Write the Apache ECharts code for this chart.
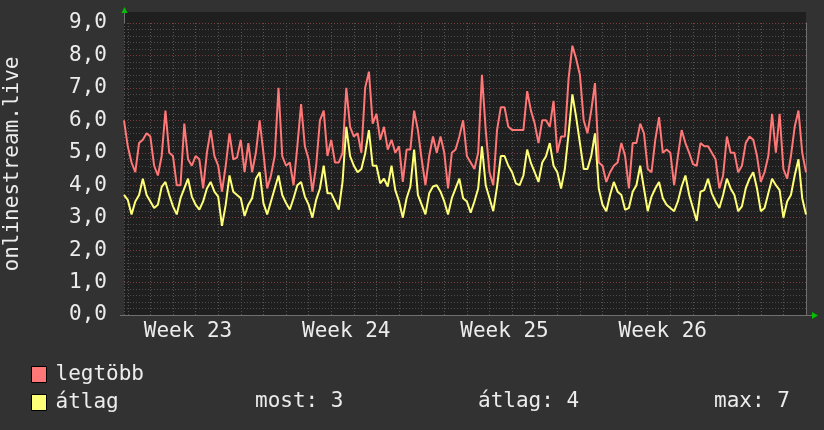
<!DOCTYPE html>
<html>
<head>
<meta charset="utf-8">
<script src="https://cdn.jsdelivr.net/npm/echarts@6/dist/echarts.min.js"></script>
<style>
  html, body { margin: 0; padding: 0; background: #323232; }
  #chart { width: 824px; height: 430px; }
</style>
</head>
<body>
<div id="chart"></div>
<script>
// samples per day (one point every 4 hours), the last one is "now"
const PER_DAY = 6

// legtöbb (max) per sample
const legtobb = [
  6.0, 5.2, 4.7, 4.4, 5.3, 5.4, 5.6, 5.5, 4.6, 4.3,
  4.9, 6.3, 5.0, 4.9, 4.0, 4.0, 5.9, 4.8, 4.6, 4.9,
  4.8, 3.9, 5.0, 5.7, 4.9, 4.6, 3.8, 4.6, 5.6, 4.8,
  4.85, 5.4, 4.4, 5.3, 4.4, 5.0, 6.0, 5.0, 3.9, 4.3,
  4.9, 7.0, 4.9, 4.6, 4.7, 4.0, 5.2, 6.5, 5.2, 4.8,
  3.8, 4.6, 6.0, 6.3, 4.9, 5.4, 4.7, 4.7, 5.0, 7.0,
  5.8, 5.5, 5.6, 5.0, 7.0, 7.5, 5.9, 6.2, 5.4, 5.8,
  5.1, 5.4, 5.0, 5.2, 4.1, 5.1, 5.1, 6.3, 5.7, 4.8,
  4.0, 4.9, 5.5, 5.0, 5.5, 5.0, 3.9, 5.0, 5.1, 5.5,
  6.0, 4.9, 4.7, 4.5, 5.0, 7.4, 5.7, 4.4, 4.0, 5.7,
  6.4, 6.4, 5.8, 5.7, 5.7, 5.7, 5.7, 6.9, 6.3, 5.9,
  5.3, 6.0, 6.0, 5.8, 6.6, 5.0, 5.5, 5.5, 7.3, 8.3,
  7.9, 7.4, 6.0, 5.6, 6.3, 7.15, 4.7, 4.6, 4.1, 4.4,
  4.6, 4.7, 5.3, 4.9, 3.9, 5.3, 5.3, 5.9, 5.6, 4.5,
  4.4, 5.4, 6.1, 5.0, 5.1, 5.0, 4.0, 4.9, 5.7, 5.3,
  5.0, 4.65, 4.6, 5.3, 5.2, 5.2, 5.0, 4.8, 3.9, 4.3,
  5.5, 5.0, 5.0, 4.4, 4.6, 5.3, 5.5, 5.4, 4.9, 4.1,
  4.4, 4.9, 6.2, 5.0, 6.2, 4.5, 4.2, 4.9, 5.8, 6.3,
  5.0, 4.4
]

// átlag (average) per sample
const atlag = [
  3.7, 3.55, 3.1, 3.5, 3.7, 4.2, 3.7, 3.5, 3.3, 3.4,
  3.95, 4.1, 3.7, 3.35, 3.1, 3.6, 3.9, 4.2, 3.65, 3.4,
  3.25, 3.5, 3.9, 4.1, 3.8, 3.65, 2.75, 3.4, 4.3, 3.8,
  3.7, 3.6, 3.05, 3.4, 3.6, 4.2, 4.4, 3.45, 3.1, 3.5,
  3.9, 4.3, 3.7, 3.45, 3.25, 3.6, 4.0, 4.1, 3.65, 3.4,
  3.0, 3.55, 3.9, 4.6, 3.75, 3.75, 3.5, 3.25, 4.1, 5.8,
  4.9, 4.6, 4.4, 4.5, 4.98, 5.7, 4.6, 4.6, 4.06, 4.2,
  3.96, 4.6, 3.85, 3.5, 3.0, 3.6, 3.96, 5.1, 3.7, 3.4,
  3.1, 3.75, 3.96, 4.0, 3.8, 3.5, 3.1, 3.6, 3.9, 4.2,
  3.6, 3.5, 3.15, 3.5, 3.9, 5.2, 4.0, 3.6, 3.2, 3.95,
  4.9, 4.9, 4.6, 4.4, 4.06, 4.0, 4.3, 5.1, 4.68, 4.4,
  4.1, 4.7, 4.89, 5.3, 4.6, 4.4, 3.9, 4.5, 5.6, 6.8,
  6.1, 5.3, 4.5, 4.5, 4.9, 5.6, 3.9, 3.4, 3.2, 3.7,
  4.1, 3.8, 3.7, 3.24, 3.3, 3.8, 4.0, 4.6, 3.9, 3.2,
  3.65, 3.9, 4.1, 3.6, 3.4, 3.3, 3.2, 3.5, 3.96, 4.3,
  3.7, 3.3, 2.9, 3.8, 3.85, 4.2, 3.75, 3.5, 3.3, 3.7,
  4.2, 3.9, 3.7, 3.2, 3.35, 3.9, 4.2, 4.4, 3.9, 3.2,
  3.3, 3.75, 4.2, 4.0, 3.85, 3.0, 3.5, 3.7, 4.3, 4.8,
  3.6, 3.1
]

// week labels and where they sit (days before now)
const weekLabels = ['Week 23', 'Week 24', 'Week 25', 'Week 26']
const weekDaysBefore = [28, 21, 14, 7]

const seriesNames = ['legtöbb', 'átlag']
const seriesColors = ['#ff7777', '#ffff77']

const FONT = 'DejaVu Sans Mono'
const TEXT = '#ececec'
const PLOT_BG = '#1f1f1f'

const n = legtobb.length
const span = (n - 1) / PER_DAY
const toPoints = arr => arr.map((v, i) => [(n - 1 - i) / PER_DAY, v])

const most = Math.round(atlag[atlag.length - 1])
const avg = Math.round(atlag.reduce((s, v) => s + v, 0) / atlag.length)
const max = Math.round(Math.max(...atlag))

const weekMap = {}
weekDaysBefore.forEach((d, i) => { weekMap[d] = weekLabels[i] })

const chart = echarts.init(document.getElementById('chart'))
const option = {
  backgroundColor: '#323232',
  animation: false,
  textStyle: { fontFamily: FONT },
  grid: {
    left: 124,
    right: 18,
    top: 23,
    bottom: 115,
    show: true,
    backgroundColor: PLOT_BG,
    borderWidth: 0
  },
  legend: {
    orient: 'vertical',
    left: 31,
    top: 364,
    padding: 0,
    itemWidth: 15,
    itemHeight: 16,
    itemGap: 7,
    icon: 'rect',
    data: seriesNames,
    itemStyle: { borderColor: '#000', borderWidth: 1 },
    textStyle: { color: TEXT, fontFamily: FONT, fontSize: 21, padding: [0, 0, 0, 4] }
  },
  xAxis: {
    type: 'value',
    inverse: true,
    min: 0,
    max: span,
    interval: 1,
    axisLine: { lineStyle: { color: '#707070', width: 1 } },
    axisTick: { show: false },
    splitLine: { show: true, lineStyle: { color: '#555555', type: [1, 2] } },
    axisLabel: {
      interval: 0,
      color: TEXT,
      fontFamily: FONT,
      fontSize: 21,
      margin: 6,
      padding: [0, 0, 0, 30],
      formatter: v => weekMap[Math.round(v)] && Math.abs(v - Math.round(v)) < 1e-6 ? weekMap[Math.round(v)] : ''
    }
  },
  yAxis: {
    type: 'value',
    min: 0,
    max: 9,
    interval: 1,
    axisLine: { show: true, lineStyle: { color: '#707070', width: 1 } },
    axisTick: { show: false },
    minorTick: { show: false, splitNumber: 5 },
    splitLine: { show: true, lineStyle: { color: '#7a3c3c', type: [1, 2] } },
    minorSplitLine: { show: true, lineStyle: { color: '#4c4c4c', type: [1, 2] } },
    axisLabel: {
      color: TEXT,
      fontFamily: FONT,
      fontSize: 21,
      margin: 17,
      formatter: v => v.toFixed(1).replace('.', ',')
    }
  },
  series: [
    {
      name: seriesNames[0],
      type: 'line',
      data: toPoints(legtobb),
      symbol: 'none',
      color: seriesColors[0],
      lineStyle: { width: 2, color: seriesColors[0] },
      z: 3
    },
    {
      name: seriesNames[1],
      type: 'line',
      data: toPoints(atlag),
      symbol: 'none',
      color: seriesColors[1],
      lineStyle: { width: 2, color: seriesColors[1] },
      z: 4
    }
  ],
  graphic: [
    // dark strip above the 9,0 line (plot area runs a bit higher than the top label)
    { type: 'rect', z: -1, shape: { x: 124, y: 12, width: 682, height: 11 }, style: { fill: PLOT_BG } },
    { type: 'line', shape: { x1: 124.5, y1: 23, x2: 124.5, y2: 12 }, style: { stroke: '#707070', lineWidth: 1 } },
    { type: 'line', shape: { x1: 806, y1: 315.5, x2: 813, y2: 315.5 }, style: { stroke: '#707070', lineWidth: 1 } },
    { type: 'line', shape: { x1: 120, y1: 315.5, x2: 124, y2: 315.5 }, style: { stroke: '#707070', lineWidth: 1 } },
    { type: 'polygon', shape: { points: [[121.5, 13], [127.5, 13], [124.5, 7]] }, style: { fill: '#00c000' } },
    { type: 'polygon', shape: { points: [[812, 312], [812, 319], [818, 315.5]] }, style: { fill: '#00c000' } },
    {
      type: 'text',
      x: 13,
      y: 164,
      rotation: Math.PI / 2,
      style: { text: 'onlinestream.live', fill: TEXT, font: '21px "' + FONT + '"', align: 'center', verticalAlign: 'middle' }
    },
    { type: 'text', x: 255, y: 402, style: { text: 'most: ' + most, fill: TEXT, font: '21px "' + FONT + '"', verticalAlign: 'middle' } },
    { type: 'text', x: 478, y: 402, style: { text: 'átlag: ' + avg, fill: TEXT, font: '21px "' + FONT + '"', verticalAlign: 'middle' } },
    { type: 'text', x: 714, y: 402, style: { text: 'max: ' + max, fill: TEXT, font: '21px "' + FONT + '"', verticalAlign: 'middle' } }
  ]
}
chart.setOption(option)
</script>
</body>
</html>
